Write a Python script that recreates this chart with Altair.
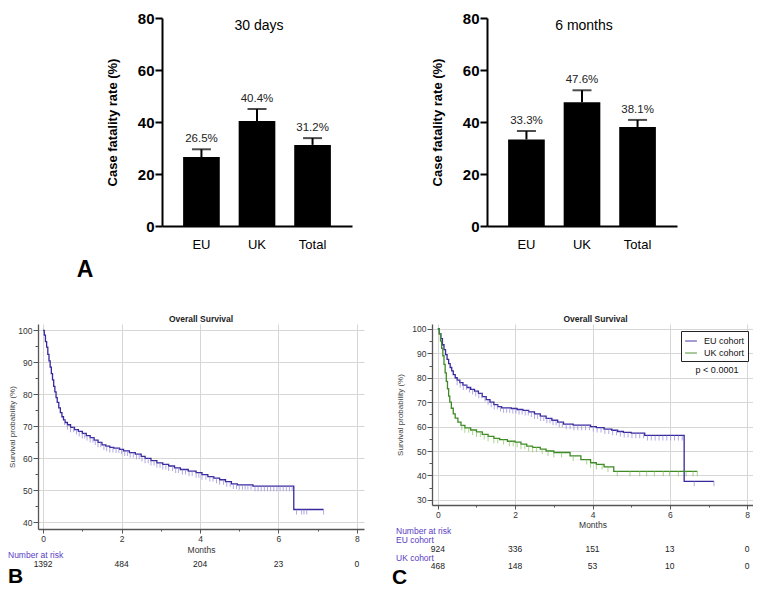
import altair as alt
import pandas as pd

FONT = "Liberation Sans"
BLUE = "#35289c"
BLUE_T = "#8f86d8"
GREEN = "#3e8a25"
GREEN_T = "#86c35f"
VIOLET = "#5a3cc4"
GRID = "#d6d6d6"
AX = "#555555"

# ---------------- Panel A data ----------------
groups = ["EU", "UK", "Total"]
cfr_30d = [26.5, 40.4, 31.2]
cfr_30d_upper = [29.5, 45.0, 33.8]
cfr_6m = [33.3, 47.6, 38.1]
cfr_6m_upper = [36.5, 52.2, 40.8]

# ---------------- Panel B data (overall) ----------------
overall_t = [0, 0.03, 0.06, 0.09, 0.12, 0.15, 0.18, 0.21, 0.24, 0.27, 0.30, 0.33, 0.36, 0.40,
             0.44, 0.48, 0.52, 0.56, 0.62, 0.70, 0.80, 0.90, 1.00, 1.10, 1.20, 1.30, 1.40, 1.50,
             1.60, 1.70, 1.80, 1.95, 2.05, 2.20, 2.35, 2.50, 2.60, 2.75, 2.90, 3.05, 3.20, 3.35,
             3.50, 3.70, 3.90, 4.05, 4.20, 4.35, 4.50, 4.65, 4.80, 4.95, 5.35, 6.39, 7.15]
overall_s = [100, 98.5, 96.5, 94.8, 92.5, 90.5, 88.5, 86.5, 84.5, 82.5, 80.8, 79.0, 77.5, 75.8,
             74.3, 73.0, 72.0, 71.2, 70.5, 69.7, 69.0, 68.4, 67.8, 67.1, 66.5, 65.7, 65.0, 64.2,
             63.8, 63.4, 63.2, 62.8, 62.3, 61.8, 61.3, 60.6, 60.0, 59.3, 58.6, 58.1, 57.6, 57.0,
             56.5, 56.0, 55.5, 54.9, 54.3, 53.8, 53.3, 52.7, 52.0, 51.7, 51.3, 44.0, 44.0]
overall_censor = [0.55, 0.62, 0.70, 0.78, 0.85, 0.92, 1.00, 1.06, 1.12, 1.20, 1.27, 1.33, 1.40,
                  1.47, 1.55, 1.62, 1.70, 1.78, 1.86, 1.93, 2.00, 2.08, 2.15, 2.22, 2.30, 2.38,
                  2.45, 2.52, 2.60, 2.68, 2.75, 2.83, 2.90, 2.98, 3.05, 3.13, 3.20, 3.30, 3.38,
                  3.45, 3.55, 3.63, 3.72, 3.80, 3.90, 3.97, 4.05, 4.15, 4.25, 4.33, 4.42, 4.50,
                  4.60, 4.68, 4.77, 4.85, 4.93, 5.00, 5.08, 5.15, 5.22, 5.30, 5.40, 5.48, 5.56,
                  5.64, 5.72, 5.80, 5.88, 5.96, 6.04, 6.12, 6.20, 6.28, 6.35, 6.46, 6.59, 6.65,
                  6.72, 7.15]

# ---------------- Panel C data (cohorts) ----------------
eu_t = [0, 0.04, 0.08, 0.12, 0.16, 0.20, 0.24, 0.28, 0.32, 0.36, 0.40, 0.45, 0.50, 0.57, 0.65,
        0.75, 0.85, 0.95, 1.05, 1.15, 1.25, 1.35, 1.45, 1.55, 1.65, 1.90, 2.05, 2.20, 2.35, 2.50,
        2.65, 2.80, 2.95, 3.10, 3.25, 3.50, 3.95, 4.10, 4.30, 4.50, 4.65, 4.80, 5.00, 5.35, 6.37, 7.14]
eu_s = [100, 98, 96, 93.5, 91.5, 89.5, 87.5, 85.8, 84.2, 82.8, 81.3, 80.0, 79.0, 78.0, 77.0,
        76.0, 75.2, 74.5, 73.6, 72.3, 71.0, 70.0, 69.0, 68.2, 67.7, 67.4, 67.0, 66.6, 66.0, 65.2,
        64.3, 63.4, 62.6, 61.8, 61.0, 60.6, 60.0, 59.6, 59.0, 58.5, 58.0, 57.6, 57.3, 56.4, 37.6, 37.6]
eu_censor = [0.50, 0.58, 0.66, 0.74, 0.82, 0.90, 0.98, 1.06, 1.14, 1.22, 1.30, 1.38, 1.46, 1.54,
             1.62, 1.70, 1.78, 1.86, 1.94, 2.02, 2.10, 2.18, 2.26, 2.34, 2.42, 2.50, 2.58, 2.66,
             2.74, 2.82, 2.90, 2.98, 3.06, 3.14, 3.22, 3.32, 3.42, 3.52, 3.62, 3.72, 3.82, 3.92,
             4.02, 4.12, 4.22, 4.32, 4.42, 4.52, 4.62, 4.72, 4.82, 4.92, 5.02, 5.12, 5.22, 5.32,
             5.42, 5.52, 5.62, 5.72, 5.82, 5.92, 6.02, 6.12, 6.22, 6.32, 6.63, 7.14]
uk_t = [0, 0.04, 0.07, 0.10, 0.13, 0.16, 0.19, 0.22, 0.25, 0.28, 0.31, 0.35, 0.40, 0.45, 0.52,
        0.60, 0.70, 0.85, 1.00, 1.15, 1.30, 1.45, 1.60, 1.80, 2.00, 2.15, 2.30, 2.45, 2.65, 2.80,
        3.00, 3.42, 3.70, 3.95, 4.10, 4.30, 4.55, 6.71]
uk_s = [100, 98, 95, 92, 89, 85.5, 82, 78.5, 75.5, 72.5, 70, 67.5, 65.2, 63.5, 61.8,
        60.5, 59.5, 58.6, 57.8, 56.8, 56.0, 55.2, 54.7, 54.0, 53.6, 52.8, 52.0, 51.5, 50.8, 50.0,
        49.4, 48.0, 46.5, 45.2, 44.5, 43.5, 41.7, 41.7]
uk_censor = [0.62, 0.70, 0.80, 0.90, 1.00, 1.10, 1.20, 1.30, 1.45, 1.55, 1.70, 1.85, 1.95, 2.05,
             2.15, 2.25, 2.35, 2.45, 2.55, 2.70, 2.85, 3.00, 3.20, 3.50, 3.85, 3.95, 4.10, 4.25,
             4.40, 4.64, 4.97, 5.22, 5.40, 5.60, 5.83, 5.99, 6.22, 6.42, 6.60, 6.71]

risk_months = [0, 2, 4, 6, 8]
risk_all = [1392, 484, 204, 23, 0]
risk_eu = [924, 336, 151, 13, 0]
risk_uk = [468, 148, 53, 10, 0]

BAR_W, BAR_H = 190, 208
KB_W, KB_H = 326, 205
KC_W, KC_H = 321, 181


def one(text):
    return pd.DataFrame({"txt": [text]})


def label(text, x, y, size=8.5, color="#222", weight="normal", align="center"):
    return alt.Chart(one(text)).mark_text(
        font=FONT, fontSize=size, color=color, fontWeight=weight, align=align, baseline="middle"
    ).encode(x=alt.value(x), y=alt.value(y), text="txt:N")


def spacer(x, y1, y2):
    return alt.Chart(one("")).mark_rule(opacity=0, strokeOpacity=0).encode(
        x=alt.value(x), y=alt.value(y1), y2=alt.value(y2))


def bar_panel(vals, uppers, title, letter=None, left=60):
    df = pd.DataFrame({"group": groups, "value": vals, "upper": uppers,
                       "lab": [f"{v:.1f}%" for v in vals]})
    base = alt.Chart(df)
    xenc = alt.X("group:N", sort=groups, title=None,
                 scale=alt.Scale(paddingInner=0.34, paddingOuter=0.38),
                 axis=alt.Axis(labelAngle=0, labelFont=FONT, labelFontSize=13, labelColor="black",
                               labelPadding=12, ticks=False, domainColor="black", domainWidth=2))
    yenc = alt.Y("value:Q", title="Case fatality rate (%)",
                 scale=alt.Scale(domain=[0, 80], nice=False),
                 axis=alt.Axis(values=[0, 20, 40, 60, 80], grid=False, labelFont=FONT,
                               labelFontSize=15, labelFontWeight="bold", labelColor="black",
                               labelPadding=1, tickSize=7, tickWidth=2, tickColor="black",
                               domainColor="black", domainWidth=2, titleFont=FONT,
                               titleFontSize=13, titleFontWeight="bold", titleColor="black",
                               titleX=-50, titleY=BAR_H / 2, titleBaseline="middle",
                               titleAlign="center"))
    bars = base.mark_bar(color="black").encode(x=xenc, y=yenc)
    err = base.mark_rule(color="black", strokeWidth=2).encode(
        x=alt.X("group:N", sort=groups), y="value:Q", y2="upper:Q")
    cap = base.mark_tick(color="black", thickness=2, size=19).encode(
        x=alt.X("group:N", sort=groups), y="upper:Q")
    txt = base.mark_text(font=FONT, fontSize=11.5, color="#222", baseline="bottom", dy=-5).encode(
        x=alt.X("group:N", sort=groups), y="upper:Q", text="lab:N")
    layers = [bars, err, cap, txt, label(title, BAR_W / 2 + 2, 8, size=14, color="black"),
              spacer(-left, -10, BAR_H + 58)]
    if letter:
        layers.append(label(letter, -77, 252, size=23, color="black", weight="bold"))
    return alt.layer(*layers).properties(width=BAR_W, height=BAR_H)


def curve_df(t, s, name):
    return pd.DataFrame({"t": t, "s": s, "cohort": name})


def censor_df(times, t, s, name, tcol):
    c = pd.DataFrame({"t": times}).sort_values("t")
    k = pd.DataFrame({"t": t, "s": s}).sort_values("t")
    m = pd.merge_asof(c, k, on="t", direction="backward")
    m["cohort"] = name
    m["tc"] = tcol
    return m


def km_encodings(h, xdom, ydom, yvals, title_x, months_y):
    x = alt.X("t:Q", title="Months", scale=alt.Scale(domain=xdom, nice=False, zero=False),
              axis=alt.Axis(values=list(range(0, 9)),
                            labelExpr="datum.value % 2 == 0 ? datum.label : ''",
                            tickSize={"condition": {"test": "datum.value % 2 != 0", "value": 2}, "value": 4},
                            gridOpacity={"condition": {"test": "datum.value % 2 != 0", "value": 0}, "value": 1},
                            gridColor=GRID, tickColor=AX, domainColor=AX, domainWidth=1.3,
                            labelFont=FONT, labelFontSize=8.5, labelColor="#333", labelPadding=1,
                            labelFlush=False, titleFont=FONT, titleFontSize=8.5,
                            titleFontWeight="normal", titleColor="#333", titleY=months_y,
                            titleBaseline="middle"))
    y = alt.Y("s:Q", title="Survival probability (%)",
              scale=alt.Scale(domain=ydom, nice=False, zero=False),
              axis=alt.Axis(values=yvals,
                            labelExpr="datum.value % 10 == 0 ? datum.label : ''",
                            tickSize={"condition": {"test": "datum.value % 10 != 0", "value": 3}, "value": 5},
                            gridOpacity={"condition": {"test": "datum.value % 10 != 0", "value": 0}, "value": 1},
                            gridColor=GRID, tickColor=AX, domainColor=AX, domainWidth=1.3,
                            labelFont=FONT, labelFontSize=8.5, labelColor="#333", labelPadding=1,
                            labelFlush=False, titleFont=FONT, titleFontSize=8,
                            titleFontWeight="normal", titleColor="#444", titleX=title_x,
                            titleY=h / 2, titleBaseline="middle", titleAlign="center"))
    return x, y


# ---------------- Panel B ----------------
xb, yb = km_encodings(KB_H, [-0.13, 8.18], [37.9, 102], list(range(40, 101, 5)), -26, 20)
b_curve = curve_df(overall_t, overall_s, "All")
b_cens = censor_df(overall_censor, overall_t, overall_s, "All", BLUE_T)
b_line = alt.Chart(b_curve).mark_line(interpolate="step-after", strokeWidth=1.3, color=BLUE).encode(x=xb, y=yb)
b_ticks = alt.Chart(b_cens).mark_tick(orient="vertical", size=5, thickness=1, yOffset=2.5).encode(
    x=xb, y=yb, color=alt.Color("tc:N", scale=None))
b_risk = alt.Chart(pd.DataFrame({"t": risk_months, "n": risk_all})).mark_text(
    font=FONT, fontSize=8.5, color="#222").encode(x=xb, y=alt.value(KB_H + 35), text="n:Q")
panel_b = alt.layer(
    b_line, b_ticks, b_risk,
    label("Overall Survival", KB_W / 2, -5, size=8.5, color="#222", weight="bold"),
    label("Number at risk", -30, KB_H + 26, color=VIOLET, align="left"),
    label("B", -30, KB_H + 48, size=21, color="black", weight="bold", align="left"),
    spacer(-30, -16, KB_H + 40),
).properties(width=KB_W, height=KB_H)

# ---------------- Panel C ----------------
xc, yc = km_encodings(KC_H, [-0.15, 8.15], [27.9, 102], list(range(30, 101, 5)), -32, 19)
c_curve = pd.concat([curve_df(eu_t, eu_s, "EU cohort"), curve_df(uk_t, uk_s, "UK cohort")])
c_cens = pd.concat([censor_df(eu_censor, eu_t, eu_s, "EU cohort", BLUE_T),
                    censor_df(uk_censor, uk_t, uk_s, "UK cohort", GREEN_T)])
c_line = alt.Chart(c_curve).mark_line(interpolate="step-after", strokeWidth=1.3).encode(
    x=xc, y=yc,
    color=alt.Color("cohort:N", scale=alt.Scale(domain=["EU cohort", "UK cohort"], range=[BLUE, GREEN]),
                    legend=alt.Legend(orient="none", legendX=249, legendY=7, title=None,
                                      symbolType="stroke", symbolSize=140, symbolStrokeWidth=1.3,
                                      labelFont=FONT, labelFontSize=9, labelColor="#111",
                                      strokeColor="#222", fillColor="white", padding=3,
                                      rowPadding=0, labelOffset=6)))
c_ticks = alt.Chart(c_cens).mark_tick(orient="vertical", size=5, thickness=1, yOffset=2.5).encode(
    x=xc, y=yc, color=alt.Color("tc:N", scale=None))
c_risk_eu = alt.Chart(pd.DataFrame({"t": risk_months, "n": risk_eu})).mark_text(
    font=FONT, fontSize=8.5, color="#222").encode(x=xc, y=alt.value(KC_H + 44), text="n:Q")
c_risk_uk = alt.Chart(pd.DataFrame({"t": risk_months, "n": risk_uk})).mark_text(
    font=FONT, fontSize=8.5, color="#222").encode(x=xc, y=alt.value(KC_H + 61), text="n:Q")
panel_c = alt.layer(
    c_line, c_ticks, c_risk_eu, c_risk_uk,
    label("Overall Survival", KC_W / 2 + 3, -5, size=8.5, color="#222", weight="bold"),
    label("p < 0.0001", 285, 46, size=9, color="#111"),
    label("Number at risk", -36, KC_H + 26, color=VIOLET, align="left"),
    label("EU cohort", -36, KC_H + 35, color=VIOLET, align="left"),
    label("UK cohort", -36, KC_H + 53, color=VIOLET, align="left"),
    label("C", -40, KC_H + 73, size=21, color="black", weight="bold", align="left"),
    spacer(-40, -16, KC_H + 40),
).properties(width=KC_W, height=KC_H)

# ---------------- Panel A ----------------
bar_a = bar_panel(cfr_30d, cfr_30d_upper, "30 days", letter="A", left=90)
bar_b = bar_panel(cfr_6m, cfr_6m_upper, "6 months", left=125)

# leading empty block so that the first row starts where the second row does
lead = alt.Chart(one("")).mark_rule(opacity=0, strokeOpacity=0).encode(
    x=alt.value(0), y=alt.value(0), y2=alt.value(1)).properties(width=24, height=10)

row1 = alt.hconcat(lead, bar_a, bar_b, spacing=10)
row2 = alt.hconcat(panel_b, panel_c, spacing=28).resolve_scale(color="independent")

chart = alt.vconcat(row1, row2, spacing=24).resolve_scale(color="independent").properties(
    padding=0).configure_view(stroke=None)

chart.save("out.html", embed_options={"renderer": "svg", "actions": False})
